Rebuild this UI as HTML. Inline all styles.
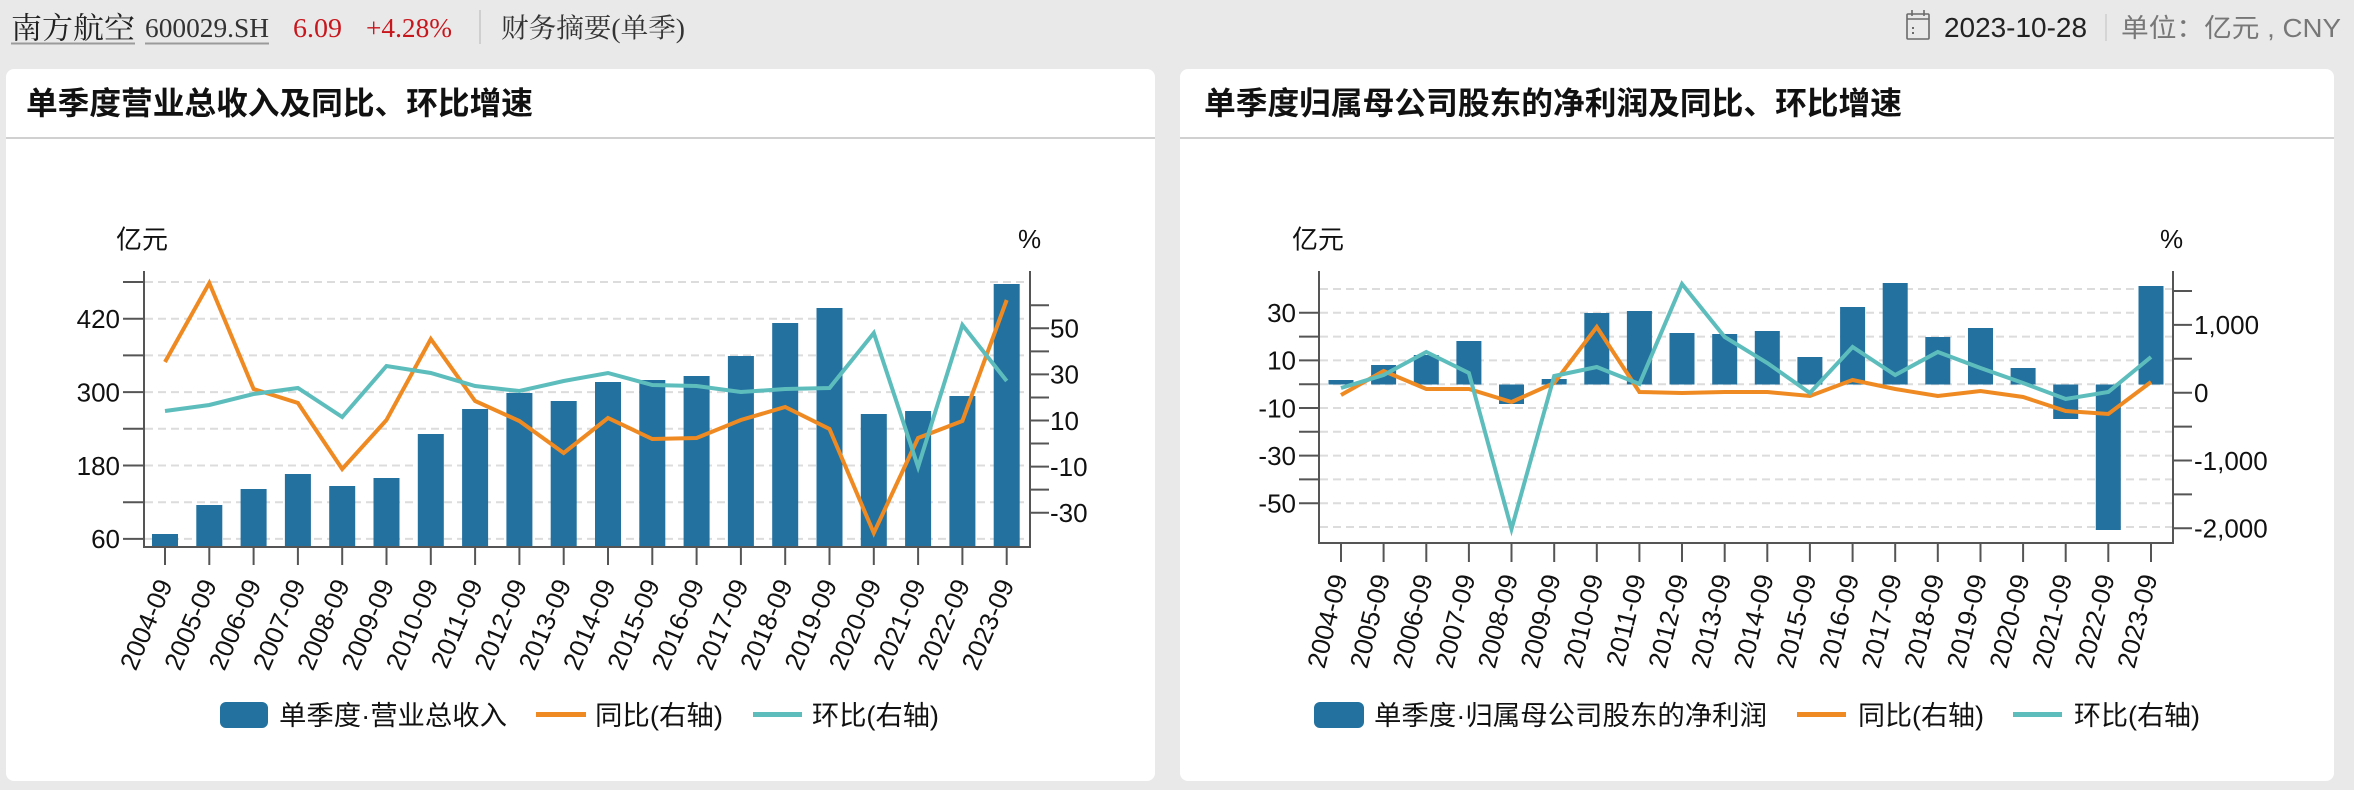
<!DOCTYPE html>
<html>
<head>
<meta charset="utf-8">
<style>
html,body{margin:0;padding:0;background:#e9e9e9;}
body{width:2354px;height:790px;overflow:hidden;}
svg{display:block;}
.sans{font-family:"Liberation Sans","Noto Sans CJK SC",sans-serif;}
.serif{font-family:"Liberation Serif","Noto Serif CJK SC",serif;}
</style>
</head>
<body>
<svg width="2354" height="790" viewBox="0 0 2354 790" xmlns="http://www.w3.org/2000/svg">
  <rect x="0" y="0" width="2354" height="790" fill="#e9e9e9"/>

  <!-- Header left -->
  <g class="serif">
    <text x="11" y="38.5" font-size="30" fill="#222" textLength="124" lengthAdjust="spacingAndGlyphs">南方航空</text>
    <rect x="11" y="42.5" width="124" height="2" fill="#9a9a9a"/>
    <text x="145" y="37" font-size="27" fill="#333" textLength="124" lengthAdjust="spacingAndGlyphs">600029.SH</text>
    <rect x="145" y="42.5" width="124" height="2" fill="#9a9a9a"/>
    <text x="293" y="37" font-size="27" fill="#c8161d" textLength="49" lengthAdjust="spacingAndGlyphs">6.09</text>
    <text x="366" y="37" font-size="27" fill="#c8161d" textLength="86" lengthAdjust="spacingAndGlyphs">+4.28%</text>
    <rect x="479" y="10" width="2" height="34" fill="#cfcfcf"/>
    <text x="501" y="37.5" font-size="27" fill="#333" textLength="184" lengthAdjust="spacingAndGlyphs">财务摘要(单季)</text>
  </g>

  <!-- Header right -->
  <g fill="none" stroke="#6a6a6a" stroke-width="1.6">
    <rect x="1907" y="14" width="22" height="25" rx="1"/>
    <line x1="1907" y1="19" x2="1929" y2="19"/>
    <line x1="1912" y1="10" x2="1912" y2="16"/>
    <line x1="1924" y1="10" x2="1924" y2="16"/>
  </g>
  <rect x="1912" y="27" width="2" height="2" fill="#6a6a6a"/>
  <rect x="1912" y="32" width="2" height="2" fill="#6a6a6a"/>
  <g class="sans">
    <text x="1944" y="37" font-size="28" fill="#222" textLength="143" lengthAdjust="spacingAndGlyphs">2023-10-28</text>
    <rect x="2105" y="14" width="2" height="27" fill="#d5d5d5"/>
    <text x="2121" y="37" font-size="26" fill="#777" textLength="220" lengthAdjust="spacingAndGlyphs">单位：亿元 , CNY</text>
  </g>

  <!-- Cards -->
  <rect x="6" y="69" width="1149" height="712" rx="8" fill="#fff"/>
  <rect x="1180" y="69" width="1154" height="712" rx="8" fill="#fff"/>
  <rect x="6" y="137" width="1149" height="2" fill="#d0d0d0"/>
  <rect x="1180" y="137" width="1154" height="2" fill="#d0d0d0"/>

  <g class="sans" font-weight="bold" fill="#111" font-size="31.5">
    <text x="26" y="114" textLength="507" lengthAdjust="spacingAndGlyphs">单季度营业总收入及同比、环比增速</text>
    <text x="1204" y="114" textLength="698" lengthAdjust="spacingAndGlyphs">单季度归属母公司股东的净利润及同比、环比增速</text>
  </g>

  <!-- ================= LEFT CHART ================= -->
  <g class="sans" font-size="26" fill="#111">
    <text x="116" y="248.5">亿元</text>
    <text x="1018" y="248">%</text>
  </g>
  <!-- gridlines -->
  <g stroke="#dcdcdc" stroke-width="2" stroke-dasharray="8,5">
    <line x1="145" y1="282" x2="1029" y2="282"/>
    <line x1="145" y1="318.7" x2="1029" y2="318.7"/>
    <line x1="145" y1="355.4" x2="1029" y2="355.4"/>
    <line x1="145" y1="392.1" x2="1029" y2="392.1"/>
    <line x1="145" y1="428.8" x2="1029" y2="428.8"/>
    <line x1="145" y1="465.5" x2="1029" y2="465.5"/>
    <line x1="145" y1="502.2" x2="1029" y2="502.2"/>
    <line x1="145" y1="538.9" x2="1029" y2="538.9"/>
  </g>
  <!-- bars -->
  <g fill="#22719e">
    <rect x="152.0" y="534" width="26" height="13"/>
    <rect x="196.3" y="505" width="26" height="42"/>
    <rect x="240.6" y="489" width="26" height="58"/>
    <rect x="284.9" y="474" width="26" height="73"/>
    <rect x="329.2" y="486" width="26" height="61"/>
    <rect x="373.5" y="478" width="26" height="69"/>
    <rect x="417.8" y="434" width="26" height="113"/>
    <rect x="462.1" y="409" width="26" height="138"/>
    <rect x="506.4" y="393" width="26" height="154"/>
    <rect x="550.7" y="401" width="26" height="146"/>
    <rect x="595.0" y="382" width="26" height="165"/>
    <rect x="639.3" y="380" width="26" height="167"/>
    <rect x="683.6" y="376" width="26" height="171"/>
    <rect x="727.9" y="356" width="26" height="191"/>
    <rect x="772.2" y="323" width="26" height="224"/>
    <rect x="816.5" y="308" width="26" height="239"/>
    <rect x="860.8" y="414" width="26" height="133"/>
    <rect x="905.1" y="411" width="26" height="136"/>
    <rect x="949.4" y="396" width="26" height="151"/>
    <rect x="993.7" y="284" width="26" height="263"/>
  </g>
  <!-- lines -->
  <polyline fill="none" stroke="#ef8a22" stroke-width="4" stroke-linejoin="miter" points="165,362 209.3,283 253.6,389 297.9,403 342.2,469 386.5,420 430.8,339 475.1,401 519.4,421 563.7,453 608,418 652.3,439 696.6,438 740.9,420 785.2,407 829.5,429 873.8,533 918.1,438 962.4,421 1006.7,300"/>
  <polyline fill="none" stroke="#5dbdbd" stroke-width="4" stroke-linejoin="miter" points="165,411 209.3,405 253.6,394 297.9,388 342.2,417 386.5,366 430.8,373 475.1,386 519.4,391 563.7,381 608,373 652.3,385 696.6,386 740.9,392 785.2,389 829.5,388 873.8,333 918.1,467 962.4,325 1006.7,381"/>
  <!-- axes -->
  <g stroke="#555" stroke-width="2" fill="none">
    <line x1="144" y1="271" x2="144" y2="548"/>
    <line x1="1030" y1="271" x2="1030" y2="548"/>
    <line x1="143" y1="547" x2="1031" y2="547"/>
    <!-- left ticks -->
    <line x1="123" y1="282" x2="144" y2="282"/>
    <line x1="123" y1="318.7" x2="144" y2="318.7"/>
    <line x1="123" y1="355.4" x2="144" y2="355.4"/>
    <line x1="123" y1="392.1" x2="144" y2="392.1"/>
    <line x1="123" y1="428.8" x2="144" y2="428.8"/>
    <line x1="123" y1="465.5" x2="144" y2="465.5"/>
    <line x1="123" y1="502.2" x2="144" y2="502.2"/>
    <line x1="123" y1="538.9" x2="144" y2="538.9"/>
    <!-- right ticks -->
    <line x1="1030" y1="305.3" x2="1049" y2="305.3"/>
    <line x1="1030" y1="328.3" x2="1049" y2="328.3"/>
    <line x1="1030" y1="351.4" x2="1049" y2="351.4"/>
    <line x1="1030" y1="374.4" x2="1049" y2="374.4"/>
    <line x1="1030" y1="397.5" x2="1049" y2="397.5"/>
    <line x1="1030" y1="420.5" x2="1049" y2="420.5"/>
    <line x1="1030" y1="443.5" x2="1049" y2="443.5"/>
    <line x1="1030" y1="466.6" x2="1049" y2="466.6"/>
    <line x1="1030" y1="489.6" x2="1049" y2="489.6"/>
    <line x1="1030" y1="512.7" x2="1049" y2="512.7"/>
    <!-- x ticks -->
    <line x1="165" y1="547" x2="165" y2="565"/>
    <line x1="209.3" y1="547" x2="209.3" y2="565"/>
    <line x1="253.6" y1="547" x2="253.6" y2="565"/>
    <line x1="297.9" y1="547" x2="297.9" y2="565"/>
    <line x1="342.2" y1="547" x2="342.2" y2="565"/>
    <line x1="386.5" y1="547" x2="386.5" y2="565"/>
    <line x1="430.8" y1="547" x2="430.8" y2="565"/>
    <line x1="475.1" y1="547" x2="475.1" y2="565"/>
    <line x1="519.4" y1="547" x2="519.4" y2="565"/>
    <line x1="563.7" y1="547" x2="563.7" y2="565"/>
    <line x1="608" y1="547" x2="608" y2="565"/>
    <line x1="652.3" y1="547" x2="652.3" y2="565"/>
    <line x1="696.6" y1="547" x2="696.6" y2="565"/>
    <line x1="740.9" y1="547" x2="740.9" y2="565"/>
    <line x1="785.2" y1="547" x2="785.2" y2="565"/>
    <line x1="829.5" y1="547" x2="829.5" y2="565"/>
    <line x1="873.8" y1="547" x2="873.8" y2="565"/>
    <line x1="918.1" y1="547" x2="918.1" y2="565"/>
    <line x1="962.4" y1="547" x2="962.4" y2="565"/>
    <line x1="1006.7" y1="547" x2="1006.7" y2="565"/>
  </g>
  <g class="sans" font-size="26" fill="#111">
    <text x="120" y="328" text-anchor="end">420</text>
    <text x="120" y="401.4" text-anchor="end">300</text>
    <text x="120" y="474.8" text-anchor="end">180</text>
    <text x="120" y="548.2" text-anchor="end">60</text>
    <text x="1050" y="337.6">50</text>
    <text x="1050" y="383.7">30</text>
    <text x="1050" y="429.8">10</text>
    <text x="1050" y="475.9">-10</text>
    <text x="1050" y="522">-30</text>
  </g>
  <g class="sans" font-size="26" fill="#111" text-anchor="end">
    <text x="173" y="584" transform="rotate(-67 173 584)">2004-09</text>
    <text x="217.3" y="584" transform="rotate(-67 217.3 584)">2005-09</text>
    <text x="261.6" y="584" transform="rotate(-67 261.6 584)">2006-09</text>
    <text x="305.9" y="584" transform="rotate(-67 305.9 584)">2007-09</text>
    <text x="350.2" y="584" transform="rotate(-67 350.2 584)">2008-09</text>
    <text x="394.5" y="584" transform="rotate(-67 394.5 584)">2009-09</text>
    <text x="438.8" y="584" transform="rotate(-67 438.8 584)">2010-09</text>
    <text x="483.1" y="584" transform="rotate(-67 483.1 584)">2011-09</text>
    <text x="527.4" y="584" transform="rotate(-67 527.4 584)">2012-09</text>
    <text x="571.7" y="584" transform="rotate(-67 571.7 584)">2013-09</text>
    <text x="616" y="584" transform="rotate(-67 616 584)">2014-09</text>
    <text x="660.3" y="584" transform="rotate(-67 660.3 584)">2015-09</text>
    <text x="704.6" y="584" transform="rotate(-67 704.6 584)">2016-09</text>
    <text x="748.9" y="584" transform="rotate(-67 748.9 584)">2017-09</text>
    <text x="793.2" y="584" transform="rotate(-67 793.2 584)">2018-09</text>
    <text x="837.5" y="584" transform="rotate(-67 837.5 584)">2019-09</text>
    <text x="881.8" y="584" transform="rotate(-67 881.8 584)">2020-09</text>
    <text x="926.1" y="584" transform="rotate(-67 926.1 584)">2021-09</text>
    <text x="970.4" y="584" transform="rotate(-67 970.4 584)">2022-09</text>
    <text x="1014.7" y="584" transform="rotate(-67 1014.7 584)">2023-09</text>
  </g>
  <!-- legend left -->
  <rect x="220" y="702" width="48" height="26" rx="6" fill="#22719e"/>
  <line x1="536" y1="714.5" x2="586" y2="714.5" stroke="#ef8a22" stroke-width="5"/>
  <line x1="753" y1="714.5" x2="802" y2="714.5" stroke="#5dbdbd" stroke-width="5"/>
  <g class="sans" font-size="27" fill="#111">
    <text x="279" y="725" textLength="228" lengthAdjust="spacingAndGlyphs">单季度·营业总收入</text>
    <text x="595" y="725" textLength="128" lengthAdjust="spacingAndGlyphs">同比(右轴)</text>
    <text x="812" y="725" textLength="127" lengthAdjust="spacingAndGlyphs">环比(右轴)</text>
  </g>

  <!-- ================= RIGHT CHART ================= -->
  <g class="sans" font-size="26" fill="#111">
    <text x="1292" y="248.5">亿元</text>
    <text x="2160" y="248">%</text>
  </g>
  <g stroke="#dcdcdc" stroke-width="2" stroke-dasharray="8,5">
    <line x1="1320" y1="289" x2="2172" y2="289"/>
    <line x1="1320" y1="312.8" x2="2172" y2="312.8"/>
    <line x1="1320" y1="336.6" x2="2172" y2="336.6"/>
    <line x1="1320" y1="360.4" x2="2172" y2="360.4"/>
    <line x1="1320" y1="384.2" x2="2172" y2="384.2"/>
    <line x1="1320" y1="408" x2="2172" y2="408"/>
    <line x1="1320" y1="431.8" x2="2172" y2="431.8"/>
    <line x1="1320" y1="455.6" x2="2172" y2="455.6"/>
    <line x1="1320" y1="479.4" x2="2172" y2="479.4"/>
    <line x1="1320" y1="503.2" x2="2172" y2="503.2"/>
    <line x1="1320" y1="527" x2="2172" y2="527"/>
  </g>
  <g fill="#22719e">
    <rect x="1328.5" y="380" width="25" height="4.5"/>
    <rect x="1371.1" y="365" width="25" height="19.5"/>
    <rect x="1413.8" y="355" width="25" height="29.5"/>
    <rect x="1456.4" y="341" width="25" height="43.5"/>
    <rect x="1499.0" y="384.5" width="25" height="19.5"/>
    <rect x="1541.7" y="379" width="25" height="5.5"/>
    <rect x="1584.3" y="313" width="25" height="71.5"/>
    <rect x="1626.9" y="311" width="25" height="73.5"/>
    <rect x="1669.5" y="333" width="25" height="51.5"/>
    <rect x="1712.2" y="334" width="25" height="50.5"/>
    <rect x="1754.8" y="331" width="25" height="53.5"/>
    <rect x="1797.4" y="357" width="25" height="27.5"/>
    <rect x="1840.1" y="307" width="25" height="77.5"/>
    <rect x="1882.7" y="283" width="25" height="101.5"/>
    <rect x="1925.3" y="337" width="25" height="47.5"/>
    <rect x="1968.0" y="328" width="25" height="56.5"/>
    <rect x="2010.6" y="368" width="25" height="16.5"/>
    <rect x="2053.2" y="384.5" width="25" height="34.5"/>
    <rect x="2095.8" y="384.5" width="25" height="145.5"/>
    <rect x="2138.5" y="286" width="25" height="98.5"/>
  </g>
  <polyline fill="none" stroke="#ef8a22" stroke-width="4" stroke-linejoin="miter" points="1341,395 1383.6,371 1426.3,389 1468.9,389 1511.5,402 1554.2,383 1596.8,327 1639.4,392 1682,393 1724.7,392 1767.3,392 1809.9,396 1852.6,380 1895.2,389 1937.8,396 1980.5,391 2023.1,397 2065.7,411 2108.3,414 2151,382"/>
  <polyline fill="none" stroke="#5dbdbd" stroke-width="4" stroke-linejoin="miter" points="1341,388 1383.6,375 1426.3,352 1468.9,373 1511.5,529 1554.2,376 1596.8,367 1639.4,384 1682,284 1724.7,337 1767.3,363 1809.9,393 1852.6,347 1895.2,375 1937.8,352 1980.5,368 2023.1,383 2065.7,399 2108.3,392 2151,357"/>
  <g stroke="#555" stroke-width="2" fill="none">
    <line x1="1319" y1="271" x2="1319" y2="544"/>
    <line x1="2173" y1="271" x2="2173" y2="544"/>
    <line x1="1318" y1="543" x2="2174" y2="543"/>
    <line x1="1299" y1="312.8" x2="1319" y2="312.8"/>
    <line x1="1299" y1="336.6" x2="1319" y2="336.6"/>
    <line x1="1299" y1="360.4" x2="1319" y2="360.4"/>
    <line x1="1299" y1="384.2" x2="1319" y2="384.2"/>
    <line x1="1299" y1="408" x2="1319" y2="408"/>
    <line x1="1299" y1="431.8" x2="1319" y2="431.8"/>
    <line x1="1299" y1="455.6" x2="1319" y2="455.6"/>
    <line x1="1299" y1="479.4" x2="1319" y2="479.4"/>
    <line x1="1299" y1="503.2" x2="1319" y2="503.2"/>
    <line x1="2173" y1="291" x2="2192" y2="291"/>
    <line x1="2173" y1="324.9" x2="2192" y2="324.9"/>
    <line x1="2173" y1="358.8" x2="2192" y2="358.8"/>
    <line x1="2173" y1="392.7" x2="2192" y2="392.7"/>
    <line x1="2173" y1="426.6" x2="2192" y2="426.6"/>
    <line x1="2173" y1="460.5" x2="2192" y2="460.5"/>
    <line x1="2173" y1="494.4" x2="2192" y2="494.4"/>
    <line x1="2173" y1="528.3" x2="2192" y2="528.3"/>
    <line x1="1341" y1="543" x2="1341" y2="562"/>
    <line x1="1383.6" y1="543" x2="1383.6" y2="562"/>
    <line x1="1426.3" y1="543" x2="1426.3" y2="562"/>
    <line x1="1468.9" y1="543" x2="1468.9" y2="562"/>
    <line x1="1511.5" y1="543" x2="1511.5" y2="562"/>
    <line x1="1554.2" y1="543" x2="1554.2" y2="562"/>
    <line x1="1596.8" y1="543" x2="1596.8" y2="562"/>
    <line x1="1639.4" y1="543" x2="1639.4" y2="562"/>
    <line x1="1682" y1="543" x2="1682" y2="562"/>
    <line x1="1724.7" y1="543" x2="1724.7" y2="562"/>
    <line x1="1767.3" y1="543" x2="1767.3" y2="562"/>
    <line x1="1809.9" y1="543" x2="1809.9" y2="562"/>
    <line x1="1852.6" y1="543" x2="1852.6" y2="562"/>
    <line x1="1895.2" y1="543" x2="1895.2" y2="562"/>
    <line x1="1937.8" y1="543" x2="1937.8" y2="562"/>
    <line x1="1980.5" y1="543" x2="1980.5" y2="562"/>
    <line x1="2023.1" y1="543" x2="2023.1" y2="562"/>
    <line x1="2065.7" y1="543" x2="2065.7" y2="562"/>
    <line x1="2108.3" y1="543" x2="2108.3" y2="562"/>
    <line x1="2151" y1="543" x2="2151" y2="562"/>
  </g>
  <g class="sans" font-size="26" fill="#111">
    <text x="1296" y="322.1" text-anchor="end">30</text>
    <text x="1296" y="369.7" text-anchor="end">10</text>
    <text x="1296" y="417.3" text-anchor="end">-10</text>
    <text x="1296" y="464.9" text-anchor="end">-30</text>
    <text x="1296" y="512.5" text-anchor="end">-50</text>
    <text x="2194" y="334.2">1,000</text>
    <text x="2194" y="402">0</text>
    <text x="2194" y="469.8">-1,000</text>
    <text x="2194" y="537.6">-2,000</text>
  </g>
  <g class="sans" font-size="26" fill="#111" text-anchor="end">
    <text x="1347.5" y="577" transform="rotate(-76 1347.5 577)">2004-09</text>
    <text x="1390.1" y="577" transform="rotate(-76 1390.1 577)">2005-09</text>
    <text x="1432.8" y="577" transform="rotate(-76 1432.8 577)">2006-09</text>
    <text x="1475.4" y="577" transform="rotate(-76 1475.4 577)">2007-09</text>
    <text x="1518" y="577" transform="rotate(-76 1518 577)">2008-09</text>
    <text x="1560.7" y="577" transform="rotate(-76 1560.7 577)">2009-09</text>
    <text x="1603.3" y="577" transform="rotate(-76 1603.3 577)">2010-09</text>
    <text x="1645.9" y="577" transform="rotate(-76 1645.9 577)">2011-09</text>
    <text x="1688.5" y="577" transform="rotate(-76 1688.5 577)">2012-09</text>
    <text x="1731.2" y="577" transform="rotate(-76 1731.2 577)">2013-09</text>
    <text x="1773.8" y="577" transform="rotate(-76 1773.8 577)">2014-09</text>
    <text x="1816.4" y="577" transform="rotate(-76 1816.4 577)">2015-09</text>
    <text x="1859.1" y="577" transform="rotate(-76 1859.1 577)">2016-09</text>
    <text x="1901.7" y="577" transform="rotate(-76 1901.7 577)">2017-09</text>
    <text x="1944.3" y="577" transform="rotate(-76 1944.3 577)">2018-09</text>
    <text x="1987" y="577" transform="rotate(-76 1987 577)">2019-09</text>
    <text x="2029.6" y="577" transform="rotate(-76 2029.6 577)">2020-09</text>
    <text x="2072.2" y="577" transform="rotate(-76 2072.2 577)">2021-09</text>
    <text x="2114.8" y="577" transform="rotate(-76 2114.8 577)">2022-09</text>
    <text x="2157.5" y="577" transform="rotate(-76 2157.5 577)">2023-09</text>
  </g>
  <!-- legend right -->
  <rect x="1314" y="702" width="50" height="26" rx="6" fill="#22719e"/>
  <line x1="1797" y1="714.5" x2="1846" y2="714.5" stroke="#ef8a22" stroke-width="5"/>
  <line x1="2013" y1="714.5" x2="2062" y2="714.5" stroke="#5dbdbd" stroke-width="5"/>
  <g class="sans" font-size="27" fill="#111">
    <text x="1374" y="725" textLength="393" lengthAdjust="spacingAndGlyphs">单季度·归属母公司股东的净利润</text>
    <text x="1858" y="725" textLength="126" lengthAdjust="spacingAndGlyphs">同比(右轴)</text>
    <text x="2074" y="725" textLength="126" lengthAdjust="spacingAndGlyphs">环比(右轴)</text>
  </g>
</svg>
</body>
</html>
